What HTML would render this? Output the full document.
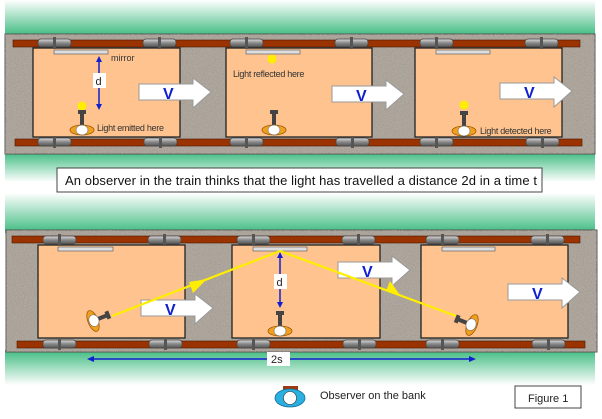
<!DOCTYPE html>
<html><head><style>html,body{margin:0;padding:0;background:#fff}svg{display:block}</style></head><body>
<svg width="602" height="419" viewBox="0 0 602 419" xmlns="http://www.w3.org/2000/svg" font-family="Liberation Sans, sans-serif">
<defs>
<linearGradient id="gd" x1="0" y1="0" x2="0" y2="1"><stop offset="0" stop-color="#fff"/><stop offset="1" stop-color="#3fbb80"/></linearGradient>
<linearGradient id="gu" x1="0" y1="0" x2="0" y2="1"><stop offset="0" stop-color="#3fbb80"/><stop offset="1" stop-color="#fff"/></linearGradient>
<filter id="grav" x="0" y="0" width="100%" height="100%"><feTurbulence type="fractalNoise" baseFrequency="0.9" numOctaves="2" seed="3"/><feColorMatrix type="matrix" values="0 0 0 0 0.35  0 0 0 0 0.32  0 0 0 0 0.28  3 0 0 0 -1.3"/><feComposite in2="SourceGraphic" operator="in"/></filter>
<linearGradient id="wh" x1="0" y1="0" x2="0" y2="1"><stop offset="0" stop-color="#ddd"/><stop offset="0.5" stop-color="#888"/><stop offset="1" stop-color="#555"/></linearGradient>
<g id="wheel"><rect x="0" y="-4" width="33" height="8" rx="3" fill="url(#wh)" stroke="#444" stroke-width="0.7"/><rect x="15" y="-6" width="3" height="12" fill="#555"/></g>
<g id="lampV"><rect x="-2" y="-18" width="4" height="14" fill="#444"/><rect x="-4" y="-20" width="8" height="4" fill="#444"/><ellipse cx="0" cy="0" rx="12" ry="5" fill="#f0a020" stroke="#a05800" stroke-width="0.8"/><ellipse cx="0" cy="0" rx="6" ry="5" fill="#fff" stroke="#555" stroke-width="0.5"/></g>
<g id="arrV"><polygon points="0,5 54,5 54,-1 72,13 54,29 54,21 0,21" fill="#fff" stroke="#999" stroke-width="1"/><text x="24" y="20" font-size="16" font-weight="bold" fill="#1020d0">V</text></g>
</defs>
<rect x="5" y="0" width="590" height="36" fill="url(#gd)"/>
<rect x="5" y="152" width="590" height="30" fill="url(#gu)"/>
<rect x="5" y="193" width="590" height="40" fill="url(#gd)"/>
<rect x="5" y="350" width="590" height="35" fill="url(#gu)"/>
<rect x="5" y="34" width="590" height="120" fill="#b0a89e" stroke="#555" stroke-width="1"/>
<rect x="5" y="34" width="590" height="120" fill="#fff" filter="url(#grav)"/>
<rect x="13" y="40" width="567" height="7" fill="#9a3300" stroke="#4a1800" stroke-width="0.6"/>
<rect x="15" y="139" width="567" height="7" fill="#9a3300" stroke="#4a1800" stroke-width="0.6"/>
<rect x="33" y="48" width="147" height="89" fill="#fec38e" stroke="#222" stroke-width="1.3"/>
<rect x="226" y="48" width="146" height="89" fill="#fec38e" stroke="#222" stroke-width="1.3"/>
<rect x="415" y="48" width="147" height="89" fill="#fec38e" stroke="#222" stroke-width="1.3"/>
<use href="#wheel" x="38" y="43"/><use href="#wheel" x="143" y="43"/><use href="#wheel" x="230" y="43"/><use href="#wheel" x="335" y="43"/><use href="#wheel" x="420" y="43"/><use href="#wheel" x="525" y="43"/>
<use href="#wheel" x="38" y="142"/><use href="#wheel" x="144" y="142"/><use href="#wheel" x="230" y="142"/><use href="#wheel" x="336" y="142"/><use href="#wheel" x="420" y="142"/><use href="#wheel" x="526" y="142"/>
<rect x="54" y="50" width="54" height="4" fill="#ddd" stroke="#666" stroke-width="0.7"/>
<rect x="246" y="50" width="54" height="4" fill="#ddd" stroke="#666" stroke-width="0.7"/>
<rect x="436" y="50" width="54" height="4" fill="#ddd" stroke="#666" stroke-width="0.7"/>
<text x="111" y="61" font-size="9" fill="#333">mirror</text>
<line x1="99" y1="60" x2="99" y2="106" stroke="#1020d0" stroke-width="1.5"/>
<polygon points="99,56 96,62 102,62" fill="#1020d0"/><polygon points="99,110 96,104 102,104" fill="#1020d0"/>
<rect x="93" y="73" width="13" height="15" fill="#fff"/><text x="95.5" y="85" font-size="11" fill="#222">d</text>
<circle cx="82" cy="106" r="4.5" fill="#ffee00"/>
<use href="#lampV" x="82" y="130"/>
<text x="97" y="131" font-size="9" fill="#333" letter-spacing="-0.3">Light emitted here</text>
<circle cx="272" cy="59" r="4.5" fill="#ffee00"/>
<text x="233" y="77" font-size="9" fill="#333" letter-spacing="-0.3">Light reflected here</text>
<use href="#lampV" x="274" y="130"/>
<circle cx="464" cy="105" r="4.5" fill="#ffee00"/>
<use href="#lampV" x="464" y="131"/>
<text x="480" y="134" font-size="9" fill="#333" letter-spacing="-0.3">Light detected here</text>
<use href="#arrV" x="139" y="79"/><use href="#arrV" x="332" y="81"/><use href="#arrV" x="500" y="78"/>
<rect x="57" y="168" width="485" height="24" fill="#fff" stroke="#444" stroke-width="1"/>
<text x="65" y="185" font-size="13" fill="#111" textLength="472">An observer in the train thinks that the light has travelled a distance 2d in a time t</text>
<rect x="6" y="230" width="591" height="122" fill="#b0a89e" stroke="#555" stroke-width="1"/>
<rect x="6" y="230" width="591" height="122" fill="#fff" filter="url(#grav)"/>
<rect x="12" y="236" width="568" height="7" fill="#9a3300" stroke="#4a1800" stroke-width="0.6"/>
<rect x="17" y="341" width="568" height="7" fill="#9a3300" stroke="#4a1800" stroke-width="0.6"/>
<rect x="38" y="245" width="147" height="93" fill="#fec38e" stroke="#222" stroke-width="1.3"/>
<rect x="232" y="245" width="148" height="93" fill="#fec38e" stroke="#222" stroke-width="1.3"/>
<rect x="421" y="245" width="147" height="93" fill="#fec38e" stroke="#222" stroke-width="1.3"/>
<use href="#wheel" x="43" y="240"/><use href="#wheel" x="148" y="240"/><use href="#wheel" x="237" y="240"/><use href="#wheel" x="342" y="240"/><use href="#wheel" x="426" y="240"/><use href="#wheel" x="531" y="240"/>
<use href="#wheel" x="43" y="344"/><use href="#wheel" x="149" y="344"/><use href="#wheel" x="237" y="344"/><use href="#wheel" x="343" y="344"/><use href="#wheel" x="426" y="344"/><use href="#wheel" x="532" y="344"/>
<rect x="58" y="247" width="55" height="4" fill="#ddd" stroke="#666" stroke-width="0.7"/>
<rect x="253" y="247" width="54" height="4" fill="#ddd" stroke="#666" stroke-width="0.7"/>
<rect x="442" y="247" width="53" height="4" fill="#ddd" stroke="#666" stroke-width="0.7"/>
<use href="#arrV" x="141" y="295"/><use href="#arrV" x="338" y="257"/><use href="#arrV" x="508" y="279"/>
<polyline points="112,316 280,251 456,316" fill="none" stroke="#ffee00" stroke-width="2.2"/>
<polygon points="207,279 193,293 189,282" fill="#ffee00"/>
<polygon points="400,295 386,291 390,281" fill="#ffee00"/>
<line x1="280" y1="256" x2="280" y2="304" stroke="#1020d0" stroke-width="1.5"/>
<polygon points="280,252 277,258 283,258" fill="#1020d0"/><polygon points="280,308 277,302 283,302" fill="#1020d0"/>
<rect x="274" y="274" width="13" height="15" fill="#fff"/><text x="276.5" y="286" font-size="11" fill="#222">d</text>
<use href="#lampV" x="280" y="331"/>
<g transform="translate(93,321) rotate(-22)"><rect x="4" y="-2" width="12" height="4" fill="#444"/><rect x="14" y="-4" width="4" height="8" fill="#444"/><ellipse cx="0" cy="0" rx="5" ry="11" fill="#f0a020" stroke="#a05800" stroke-width="0.8"/><ellipse cx="1" cy="0" rx="5" ry="6" fill="#fff" stroke="#555" stroke-width="0.5"/></g>
<g transform="translate(472,325) rotate(22)"><rect x="-16" y="-2" width="12" height="4" fill="#444"/><rect x="-18" y="-4" width="4" height="8" fill="#444"/><ellipse cx="0" cy="0" rx="5" ry="11" fill="#f0a020" stroke="#a05800" stroke-width="0.8"/><ellipse cx="-1" cy="0" rx="5" ry="6" fill="#fff" stroke="#555" stroke-width="0.5"/></g>
<line x1="92" y1="359" x2="471" y2="359" stroke="#1020d0" stroke-width="1.5"/>
<polygon points="87,359 94,356 94,362" fill="#1020d0"/><polygon points="476,359 469,356 469,362" fill="#1020d0"/>
<rect x="267" y="352" width="23" height="14" fill="#fff"/><text x="271" y="363" font-size="11" fill="#222">2s</text>
<rect x="283" y="386" width="15" height="5" fill="#a03a10"/>
<ellipse cx="290" cy="398" rx="15" ry="9" fill="#2ab0e0" stroke="#1070a0" stroke-width="0.8"/>
<circle cx="290" cy="398" r="6.5" fill="#fff" stroke="#333" stroke-width="0.6"/>
<text x="320" y="399" font-size="11" fill="#222">Observer on the bank</text>
<rect x="515" y="386" width="66" height="22" fill="#fff" stroke="#444" stroke-width="1"/>
<text x="528" y="402" font-size="11" fill="#222">Figure 1</text>
</svg>
</body></html>
